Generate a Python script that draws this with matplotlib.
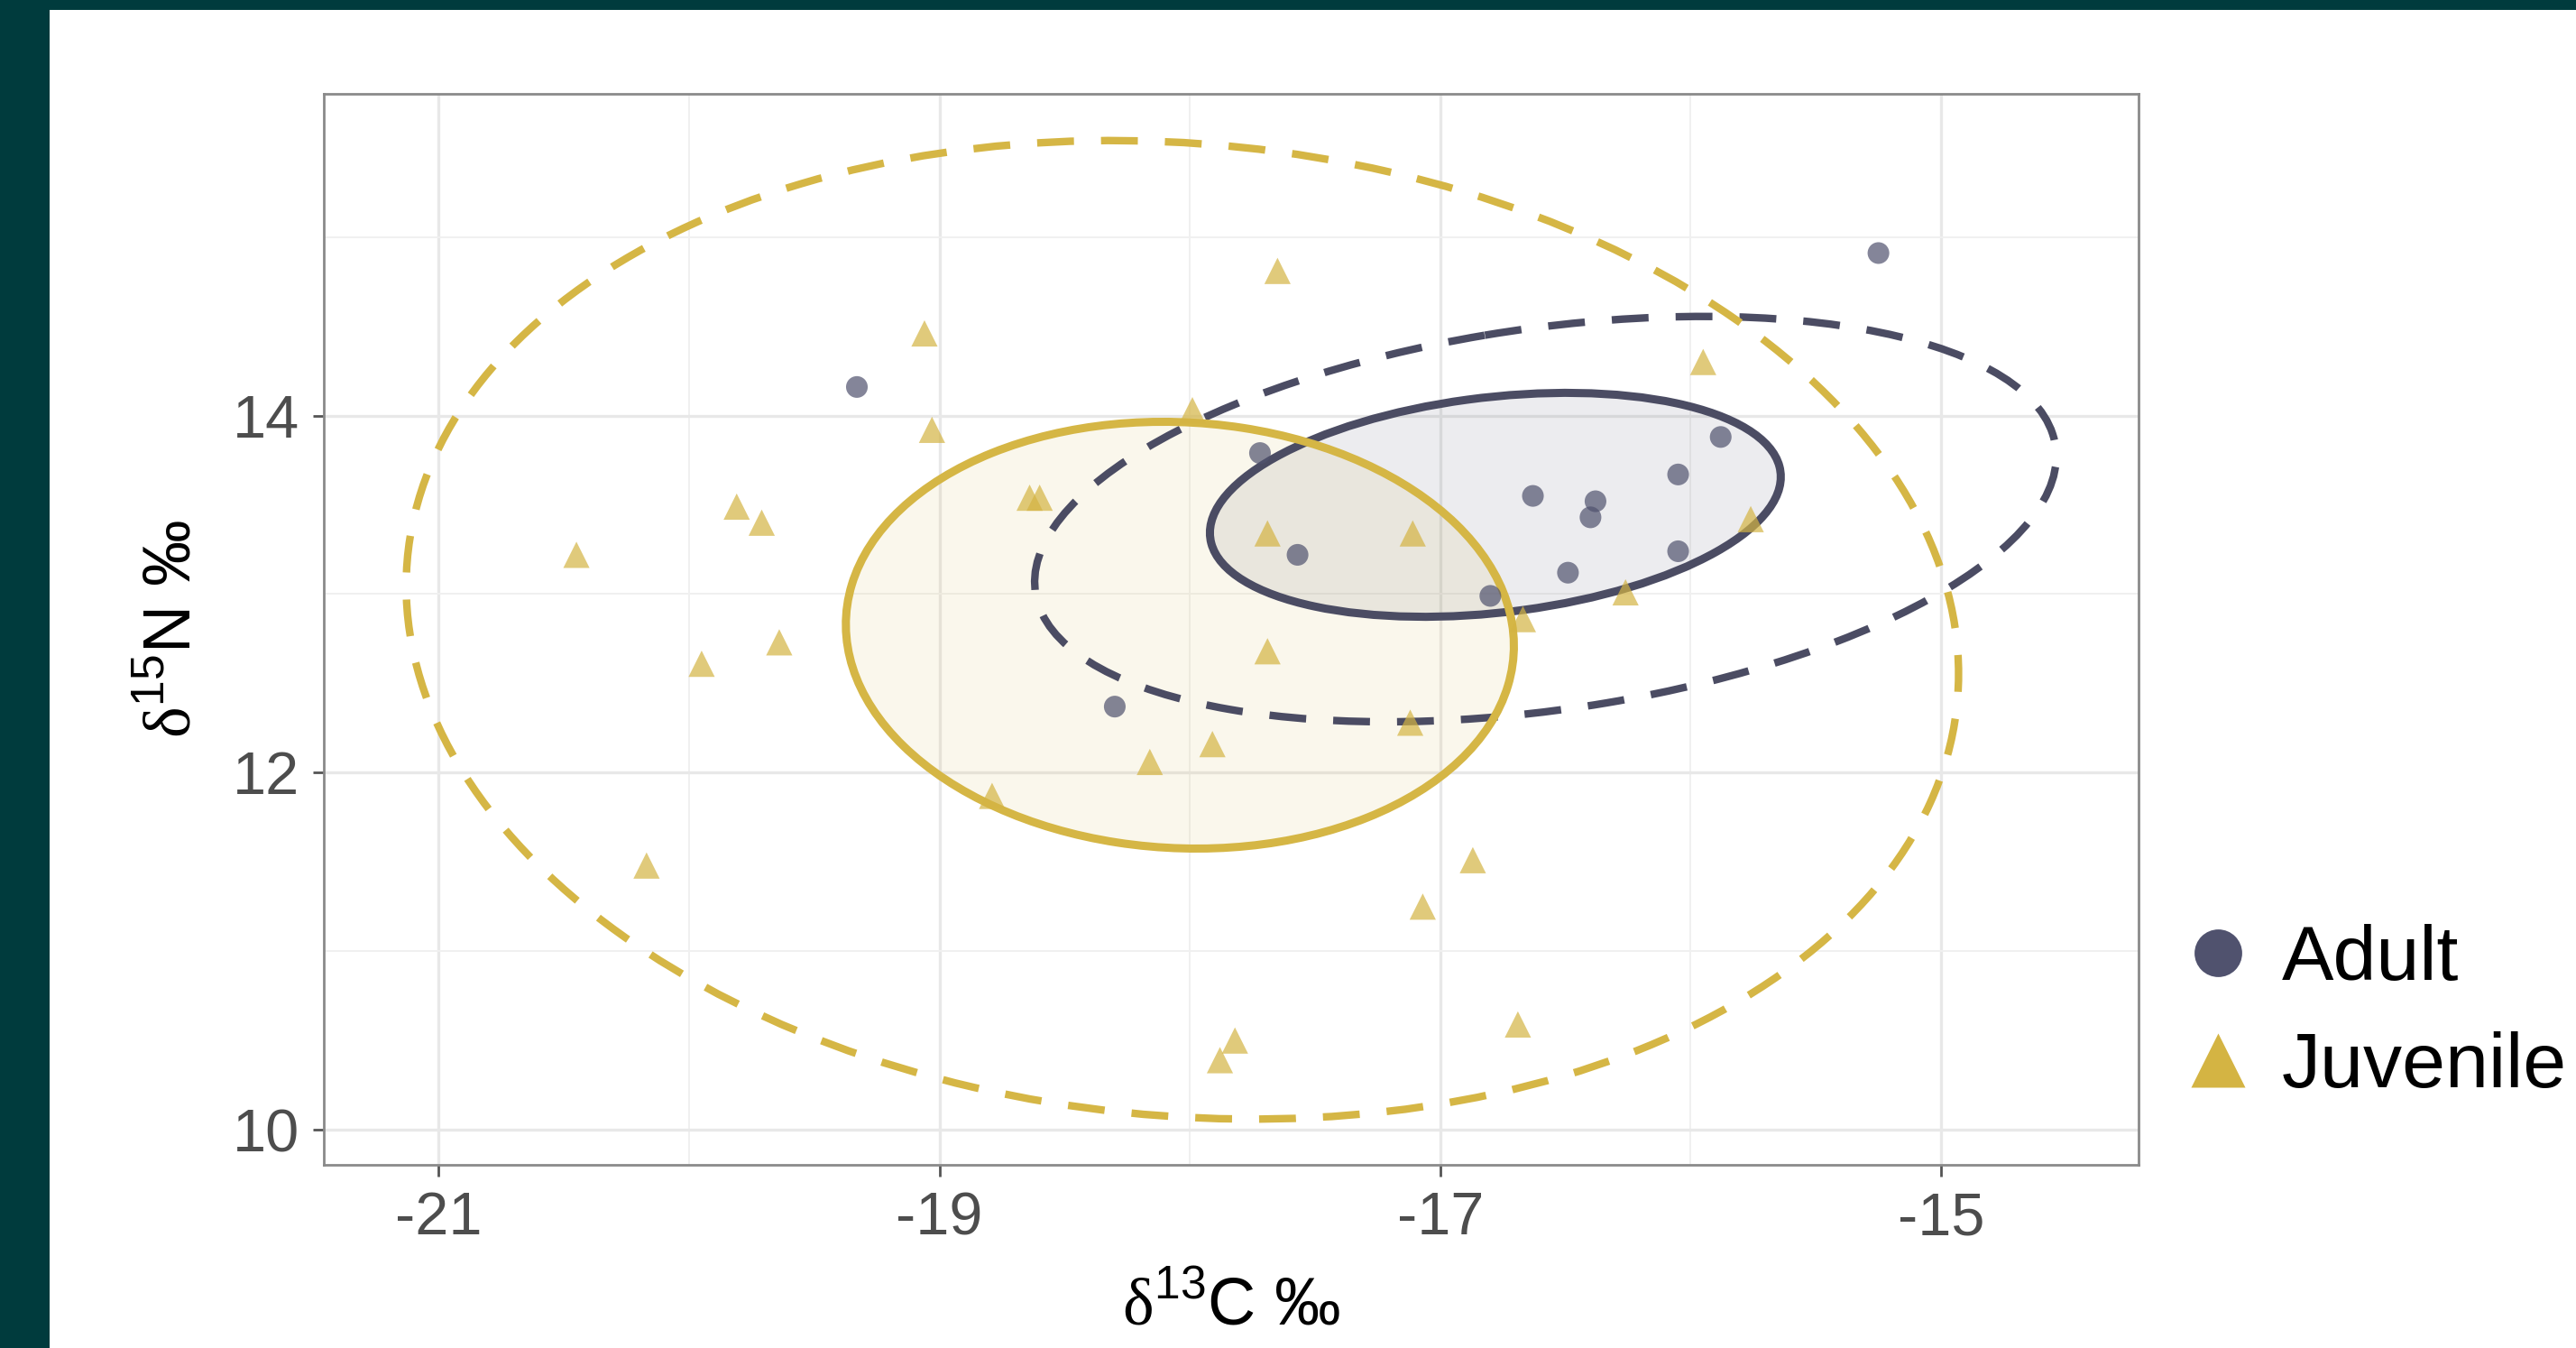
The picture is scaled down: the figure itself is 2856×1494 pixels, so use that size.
import numpy as np
import matplotlib
matplotlib.use('Agg')
import matplotlib.pyplot as plt
from matplotlib.patches import Ellipse, Rectangle
from matplotlib.lines import Line2D

plt.rcParams['font.family'] = ['Liberation Sans', 'DejaVu Sans']
plt.rcParams['mathtext.fontset'] = 'custom'
plt.rcParams['mathtext.rm'] = 'Liberation Serif'
plt.rcParams['mathtext.sf'] = 'Liberation Sans'
plt.rcParams['axes.unicode_minus'] = False

# isotope values
adult_c = [-19.33, -15.25, -18.30, -17.72, -17.57, -16.80, -16.63, -16.38,
           -16.40, -16.49, -16.05, -15.88, -16.05]
adult_n = [14.16, 14.91, 12.37, 13.79, 13.22, 12.99, 13.55, 13.52,
           13.43, 13.12, 13.67, 13.88, 13.24]

juv_c = [-20.45, -20.17, -19.95, -19.81, -19.71, -19.64, -19.06, -19.03,
         -18.79, -18.64, -18.60, -18.16, -17.91, -17.99, -17.65, -17.69,
         -17.69, -17.11, -17.12, -16.87, -17.07, -17.82, -17.88, -16.69,
         -16.67, -16.26, -15.95, -15.76]
juv_n = [13.22, 11.48, 12.61, 13.49, 13.40, 12.73, 14.46, 13.92,
         11.87, 13.54, 13.54, 12.06, 12.16, 14.03, 14.81, 13.34,
         12.68, 13.34, 12.28, 11.51, 11.25, 10.50, 10.39, 10.59,
         12.86, 13.01, 14.30, 13.42]

groups = ['Adult', 'Juvenile']

# standard ellipses (solid): centre, half span in x, half span in y, correlation
sea_cx = [-16.78, -18.04]
sea_cy = [13.50, 12.77]
sea_sx = [1.14, 1.334]
sea_sy = [0.627, 1.195]
sea_rho = [0.25, -0.05]

# 95% ellipses (dashed)
pred_cx = [-16.58, -18.03]
pred_cy = [13.42, 12.80]
pred_sx = [2.04, 3.10]
pred_sy = [1.135, 2.74]
pred_rho = [0.31, -0.09]

line_col = ['#4B4C63', '#D5B645']
pt_col = ['#50526E', '#D4B443']


def make_ellipse(cx, cy, sx, sy, rho, **kw):
    cov = np.array([[sx * sx, rho * sx * sy], [rho * sx * sy, sy * sy]])
    vals, vecs = np.linalg.eigh(cov)
    ang = np.degrees(np.arctan2(vecs[1, 1], vecs[0, 1]))
    return Ellipse((cx, cy), 2 * np.sqrt(vals[1]), 2 * np.sqrt(vals[0]), angle=ang, **kw)


fig = plt.figure(figsize=(28.56, 14.94), dpi=100)
fig.patch.set_facecolor('#003B3D')
fig.patches.append(Rectangle((55 / 2856, 0), 1, 1 - 11 / 1494, transform=fig.transFigure,
                             facecolor='white', edgecolor='none', zorder=-10))

ax = fig.add_axes([0.1257, 0.1359, 0.7045, 0.7948])
ax.set_zorder(1)
ax.set_facecolor('white')

for i in range(2):
    ax.add_patch(make_ellipse(pred_cx[i], pred_cy[i], pred_sx[i], pred_sy[i], pred_rho[i],
                              fill=False, edgecolor=line_col[i], lw=6,
                              linestyle=(0, (4.9, 3.6)), capstyle='butt', zorder=2))
for i in range(2):
    ax.add_patch(make_ellipse(sea_cx[i], sea_cy[i], sea_sx[i], sea_sy[i], sea_rho[i],
                              facecolor=line_col[i], alpha=0.1, edgecolor='none', zorder=1))
    ax.add_patch(make_ellipse(sea_cx[i], sea_cy[i], sea_sx[i], sea_sy[i], sea_rho[i],
                              fill=False, edgecolor=line_col[i], lw=6.5, zorder=3))

ax.scatter(adult_c, adult_n, s=300, marker='o', color=pt_col[0], alpha=0.7,
           edgecolors='none', zorder=4)
ax.scatter(juv_c, juv_n, s=440, marker='^', color=pt_col[1], alpha=0.7,
           edgecolors='none', zorder=4)

ax.set_xlim(-21.459, -14.211)
ax.set_ylim(9.804, 15.804)
ax.set_xticks([-21, -19, -17, -15])
ax.set_xticks([-20, -18, -16], minor=True)
ax.set_yticks([10, 12, 14])
ax.set_yticks([11, 13, 15], minor=True)
ax.grid(which='major', color='#E8E8E8', lw=2.4, zorder=0)
ax.grid(which='minor', color='#F0F0F0', lw=1.4, zorder=0)
ax.set_axisbelow(True)
ax.tick_params(which='major', length=9, width=2, color='#555555', labelsize=48,
               labelcolor='#4D4D4D')
ax.tick_params(axis='x', which='major', pad=12)
ax.tick_params(axis='y', which='major', pad=10)
ax.tick_params(which='minor', length=0)
for sp in ax.spines.values():
    sp.set_color('#8A8A8A')
    sp.set_linewidth(2)

ax.set_xlabel(r'$\mathrm{\delta}^{\mathsf{13}}$C ‰', fontsize=53, color='black')
ax.set_ylabel(r'$\mathrm{\delta}^{\mathsf{15}}$N ‰', fontsize=53, color='black')
ax.xaxis.set_label_coords(0.5, -0.104)
ax.yaxis.set_label_coords(-0.066, 0.5)

handles = [Line2D([0], [0], marker='o', linestyle='none', markersize=38,
                  markerfacecolor=pt_col[0], markeredgecolor='none'),
           Line2D([0], [0], marker='^', linestyle='none', markersize=43,
                  markerfacecolor=pt_col[1], markeredgecolor='none')]
fig.legend(handles, groups, loc='center left', bbox_to_anchor=(0.849, 0.248),
           frameon=False, fontsize=62, handlelength=0.8, handletextpad=0.42,
           labelspacing=0.45, borderpad=0, borderaxespad=0)

fig.savefig('out.png', dpi=100, facecolor=fig.get_facecolor())
